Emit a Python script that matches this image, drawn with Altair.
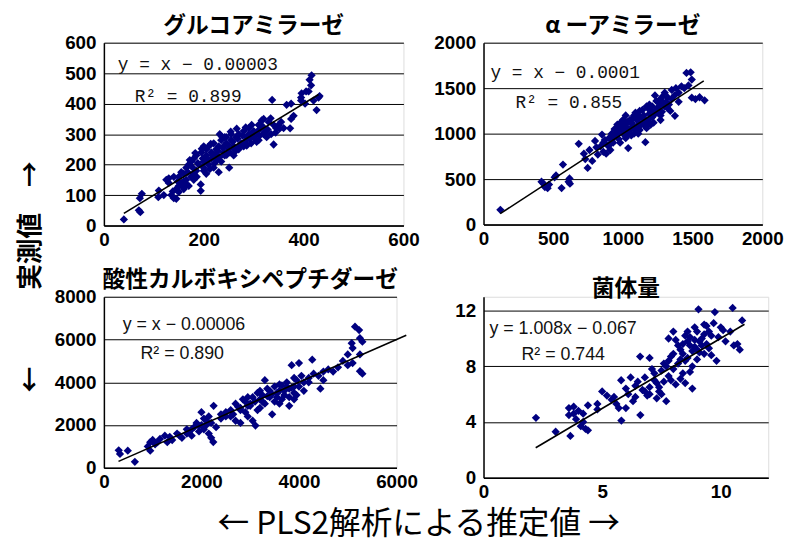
import altair as alt
import pandas as pd

# ---------------- data ----------------
titles = ["グルコアミラーゼ", "α ーアミラーゼ", "酸性カルボキシペプチダーゼ", "菌体量"]
eq_text = ["y = x − 0.00003", "y = x − 0.0001", "y = x − 0.00006", "y = 1.008x − 0.067"]
r2_text = ["R² = 0.899", "R² = 0.855", "R² = 0.890", "R² = 0.744"]
slopes = [1.0, 1.0, 1.0, 1.008]
intercepts = [-0.00003, -0.0001, -0.00006, -0.067]
line_x = [[40, 430], [120, 1580], [300, 6200], [2.2, 11.0]]

x_ticks = [[0, 200, 400, 600], [0, 500, 1000, 1500, 2000], [0, 2000, 4000, 6000], [0, 5, 10]]
y_ticks = [[0, 100, 200, 300, 400, 500, 600], [0, 500, 1000, 1500, 2000],
           [0, 2000, 4000, 6000, 8000], [0, 4, 8, 12]]
x_domains = [[0, 600], [0, 2000], [0, 6000], [0, 12]]
y_domains = [[0, 600], [0, 2000], [0, 8000], [0, 13]]

ga_pts = [(40, 20), (70, 50), (73, 44), (76, 104), (72, 90), (109, 93), (110, 115), (125, 150),
          (130, 140), (135, 100), (140, 90), (145, 88), (145, 120), (150, 130), (150, 160),
          (155, 140), (160, 120), (160, 170), (165, 150), (165, 190), (170, 130), (170, 200),
          (175, 160), (175, 210), (180, 170), (180, 220), (185, 180), (185, 230), (190, 200),
          (194, 135), (194, 114), (195, 240), (200, 210), (200, 180), (205, 230), (205, 250),
          (210, 200), (210, 260), (215, 220), (215, 240), (220, 190), (220, 270), (225, 250),
          (225, 230), (230, 175), (230, 260), (235, 210), (235, 280), (240, 240), (240, 260),
          (245, 270), (245, 290), (251, 190), (250, 250), (255, 300), (255, 280), (260, 260),
          (260, 230), (265, 290), (270, 250), (270, 300), (275, 270), (280, 310), (280, 260),
          (285, 280), (290, 300), (290, 320), (295, 270), (300, 290), (300, 310), (305, 300),
          (310, 280), (310, 330), (315, 320), (320, 300), (320, 350), (325, 310), (330, 340),
          (337, 412), (335, 300), (340, 266), (340, 330), (345, 320), (350, 330), (355, 340),
          (360, 320), (366, 396), (373, 319), (375, 400), (375, 350), (380, 360), (396, 434),
          (395, 420), (403, 400), (405, 440), (412, 478), (416, 493), (415, 460), (420, 410),
          (426, 379), (432, 425), (430, 420), (410, 440), (395, 410), (160, 145), (168, 175),
          (178, 190), (188, 205), (198, 220), (208, 215), (218, 235), (228, 245), (238, 255),
          (248, 265), (258, 275), (268, 285), (278, 295), (288, 290), (298, 305), (308, 310),
          (318, 325), (328, 315), (140, 160), (150, 110), (155, 175), (165, 135), (180, 150),
          (200, 190), (212, 185), (222, 205), (232, 225), (242, 230), (252, 240), (262, 250),
          (272, 260), (282, 270), (292, 285), (302, 285), (312, 295), (322, 305), (242, 290),
          (232, 300), (200, 260), (205, 170), (120, 100), (130, 155), (172, 215), (183, 238),
          (196, 252), (214, 268), (236, 292), (254, 308), (266, 318), (284, 322), (296, 330),
          (316, 345), (334, 352), (186, 160), (226, 215), (246, 232), (264, 245), (286, 262),
          (306, 275), (326, 290), (344, 305), (352, 318), (148, 145), (158, 128), (138, 112)]

aa_pts = [(121, 163), (416, 471), (430, 450), (440, 412), (460, 400), (470, 440), (510, 520),
          (520, 540), (570, 660), (560, 402), (617, 507), (610, 470), (620, 450), (683, 888),
          (720, 780), (730, 720), (747, 623), (760, 820), (780, 700), (800, 920), (810, 850),
          (820, 770), (840, 860), (850, 990), (860, 800), (870, 930), (880, 780), (890, 870),
          (900, 950), (910, 820), (920, 1000), (930, 900), (940, 1050), (950, 980), (960, 1100),
          (970, 940), (980, 1050), (990, 1130), (1000, 1000), (1010, 1080), (1020, 1200),
          (1038, 841), (1040, 1050), (1050, 1150), (1060, 980), (1070, 1100), (1080, 1200),
          (1090, 1050), (1100, 1150), (1110, 1000), (1120, 1250), (1130, 1100), (1161, 906),
          (1150, 1200), (1160, 1080), (1170, 1300), (1180, 1150), (1190, 1220), (1200, 1100),
          (1210, 1300), (1220, 1200), (1230, 1420), (1240, 1250), (1250, 1350), (1260, 1300),
          (1270, 1150), (1280, 1400), (1290, 1330), (1300, 1450), (1310, 1350), (1320, 1400),
          (1340, 1250), (1350, 1480), (1373, 1196), (1370, 1420), (1380, 1500), (1400, 1450),
          (1420, 1520), (1440, 1500), (1456, 1667), (1470, 1530), (1486, 1674), (1494, 1594),
          (1494, 1395), (1520, 1380), (1550, 1400), (1586, 1366), (1000, 1150), (1050, 1050),
          (1100, 1080), (950, 1050), (1150, 1120), (1200, 1250), (980, 900), (1020, 950),
          (1080, 1000), (1130, 1180), (1180, 1280), (1230, 1250), (900, 870), (860, 900),
          (1060, 1120), (1110, 1200), (1160, 1150), (1210, 1180), (1260, 1220), (1300, 1300),
          (1350, 1380), (1400, 1350), (1020, 1100), (940, 980), (1060, 1050), (1120, 1100),
          (1250, 1280), (1330, 1320), (1280, 1240), (1180, 1100), (960, 1000), (990, 1060),
          (1030, 1130), (1070, 1170), (1090, 1230), (1140, 1260), (1190, 1320), (1240, 1360),
          (1270, 1380), (1010, 1020), (1040, 990), (1080, 1060), (1120, 1040), (1170, 1060),
          (1220, 1120), (1270, 1200), (1320, 1280), (920, 930), (960, 1040), (1000, 1080)]

cp_pts = [(304, 818), (330, 650), (490, 800), (635, 277), (900, 1000), (950, 800), (1000, 1300),
          (1050, 1100), (1100, 1200), (1250, 1500), (1300, 1200), (1400, 1300), (1500, 1600),
          (1600, 1400), (1700, 1800), (1800, 1500), (1850, 1900), (1900, 2100), (1950, 1700),
          (2000, 2000), (2000, 2600), (2050, 1800), (2100, 2200), (2150, 1600), (2200, 1400),
          (2243, 1202), (2250, 2900), (2300, 1900), (2400, 2500), (2500, 2600), (2600, 2400),
          (2700, 3000), (2700, 2200), (2800, 2800), (2800, 2100), (2850, 3200), (2900, 2600),
          (2950, 3300), (3000, 2900), (3050, 2200), (3100, 3100), (3108, 1973), (3150, 3500),
          (3200, 2800), (3250, 3400), (3300, 4100), (3300, 3000), (3350, 3700), (3400, 3300),
          (3450, 2500), (3500, 3800), (3500, 3100), (3550, 3500), (3600, 3900), (3650, 3200),
          (3700, 3600), (3750, 4000), (3800, 3300), (3800, 3700), (3850, 4800), (3900, 3500),
          (3900, 4200), (3950, 4100), (4000, 4900), (4000, 3800), (4100, 4000), (4200, 4200),
          (4272, 5055), (4300, 4400), (4439, 3699), (4500, 4100), (4600, 4600), (4700, 4500),
          (4800, 4700), (5000, 5300), (5081, 5827), (5100, 4900), (5100, 5600), (5149, 6598),
          (5233, 6444), (5250, 4517), (5300, 4400), (5250, 6060), (5300, 5900), (5250, 5300),
          (5000, 4800), (4900, 5000), (4200, 4000), (3600, 3600), (3400, 3600), (3200, 3200),
          (3000, 3000), (2800, 2700), (2600, 2700), (2500, 2400), (2400, 2300), (2200, 2100),
          (2100, 2000), (1800, 1800), (1700, 1600), (3700, 3400), (3900, 3800), (3650, 3850),
          (3450, 3450), (3250, 3100), (3050, 3300), (2900, 3100), (2750, 2850), (2650, 2500),
          (2950, 2400), (3150, 2700), (3600, 3000), (3800, 2900), (3900, 3200), (4100, 3600),
          (4400, 4300), (4500, 4500), (3850, 3750), (3950, 3400), (950, 1200), (1150, 1350),
          (1350, 1450), (1550, 1500), (1750, 1700), (1950, 1950), (2050, 2300), (2150, 2400),
          (2950, 2900), (3350, 3350), (3550, 3300), (3750, 3800), (4050, 4300), (3200, 3600)]

bio_pts = [(2.21, 4.3), (3.04, 3.3), (3.6, 5.0), (3.6, 4.5), (3.66, 3.0), (3.8, 5.1), (3.9, 4.2),
           (4.0, 4.8), (4.1, 3.7), (4.2, 4.0), (4.3, 3.5), (4.4, 5.2), (4.4, 3.4), (4.8, 4.9),
           (4.8, 5.3), (5.0, 6.2), (5.2, 5.9), (5.4, 5.6), (5.6, 5.3), (5.8, 7.0), (5.81, 4.1),
           (6.0, 5.0), (6.0, 6.4), (6.2, 7.2), (6.4, 5.8), (6.5, 6.9), (6.6, 8.7), (6.61, 4.5),
           (6.8, 6.2), (7.0, 8.6), (7.0, 6.0), (7.2, 7.5), (7.3, 5.7), (7.4, 6.5), (7.5, 7.7),
           (7.6, 6.9), (7.7, 5.5), (7.8, 7.3), (7.8, 10.0), (7.9, 8.7), (8.0, 10.5), (8.0, 7.8),
           (8.1, 6.7), (8.2, 8.2), (8.3, 9.2), (8.4, 7.5), (8.5, 10.2), (8.5, 6.8), (8.6, 8.6),
           (8.7, 9.5), (8.8, 6.4), (8.8, 8.0), (8.9, 10.8), (9.0, 9.2), (9.0, 8.5), (9.06, 12.1),
           (9.2, 10.0), (9.3, 11.0), (9.4, 9.6), (9.5, 10.5), (9.6, 8.8), (9.7, 11.1), (9.75, 11.9),
           (9.82, 8.4), (10.0, 10.8), (10.2, 9.8), (10.4, 10.5), (10.55, 9.5), (10.5, 12.2),
           (10.7, 9.6), (10.8, 9.2), (10.9, 11.3), (8.2, 9.5), (8.6, 9.8), (8.9, 9.9), (9.0, 10.5),
           (8.4, 8.9), (8.0, 8.9), (7.6, 8.2), (7.2, 7.0), (6.8, 7.2), (6.4, 6.6), (6.1, 6.0),
           (5.5, 5.8), (9.3, 8.9), (9.5, 9.3), (8.7, 7.6), (8.3, 7.1), (7.9, 7.0), (7.4, 6.2),
           (9.2, 9.5), (9.6, 10.2), (9.9, 10.1), (10.1, 10.6), (8.5, 8.4), (8.8, 9.1), (9.1, 9.0),
           (7.0, 6.5), (6.9, 5.9), (7.5, 6.0), (5.7, 5.0), (6.3, 5.5), (8.1, 9.9), (8.6, 10.5),
           (9.4, 10.9), (7.7, 8.0), (3.8, 4.6), (4.2, 4.6), (8.3, 8.5), (8.9, 9.4), (9.1, 9.8),
           (9.3, 10.3), (8.7, 10.1), (8.4, 9.6), (7.3, 6.8), (7.1, 7.8), (6.7, 6.3), (7.8, 8.4)]

points = [ga_pts, aa_pts, cp_pts, bio_pts]

# annotation anchor positions (data units), not data values
eq_pos = [(28, 525), (50, 1665), (385, 6660), (0.25, 10.7)]
r2_pos = [(62, 420), (230, 1340), (750, 5320), (1.6, 8.8)]
eq_fonts = ["Liberation Mono", "Liberation Mono", "Liberation Sans", "Liberation Sans"]
sizes = [(303, 185), (282, 184), (296, 173), (288, 183)]

LABEL = dict(labelFont="Liberation Sans", labelFontWeight="bold", labelFontSize=19,
             labelColor="black", domainColor="black", domainWidth=1.5, ticks=False,
             labelOverlap=False, title=None, format="d")


def panel(i):
    df = pd.DataFrame(points[i], columns=["x", "y"])
    xs = alt.Scale(domain=x_domains[i], nice=False, zero=False)
    ys = alt.Scale(domain=y_domains[i], nice=False, zero=False)
    xax = alt.Axis(values=x_ticks[i], grid=False, labelFlush=False, labelPadding=5, **LABEL)
    yax = alt.Axis(values=y_ticks[i], grid=True, gridColor="black", gridWidth=1,
                   labelPadding=8, **LABEL)
    X = alt.X("x:Q", scale=xs, axis=xax)
    Y = alt.Y("y:Q", scale=ys, axis=yax)
    pts = alt.Chart(df).mark_point(shape="diamond", filled=True, color="#000080",
                                   size=70, opacity=1).encode(x=X, y=Y)
    lx = line_x[i]
    ldf = pd.DataFrame({"x": lx, "y": [slopes[i] * v + intercepts[i] for v in lx]})
    line = alt.Chart(ldf).mark_line(color="black", strokeWidth=1.6, clip=False).encode(x=X, y=Y)
    tdf = pd.DataFrame({"x": [eq_pos[i][0], r2_pos[i][0]], "y": [eq_pos[i][1], r2_pos[i][1]],
                        "t": [eq_text[i], r2_text[i]]})
    txt = alt.Chart(tdf).mark_text(align="left", baseline="middle", font=eq_fonts[i],
                                   fontSize=18, color="#111").encode(x=X, y=Y, text="t:N")
    w, h = sizes[i]
    return alt.layer(pts, line, txt).properties(
        width=w, height=h,
        title=alt.TitleParams(titles[i], font="Noto Sans CJK JP", fontSize=23,
                              fontWeight="bold", color="black", offset=0, dy=4,
                              anchor="middle"))


grid = alt.concat(*[panel(i) for i in range(4)], columns=2,
                  spacing={"row": 18, "column": 13}).properties(
    title=alt.TitleParams("← PLS2解析による推定値 →", orient="bottom", anchor="middle",
                          font="Noto Sans CJK JP", fontSize=32, fontWeight="normal",
                          color="black", offset=7))

chart = alt.hconcat(grid).properties(
    title=alt.TitleParams("←　　　実測値　→", orient="left", anchor="middle",
                          font="Noto Sans CJK JP", fontSize=26, fontWeight="bold",
                          color="black", offset=10),
    padding={"left": 10, "top": 3, "right": 5, "bottom": 0}
).configure_view(fill="#C0C0C0", stroke="#8c8c8c", strokeWidth=1).configure(
    background="white")

chart.save("out.html", embed_options={"renderer": "svg", "actions": False})
